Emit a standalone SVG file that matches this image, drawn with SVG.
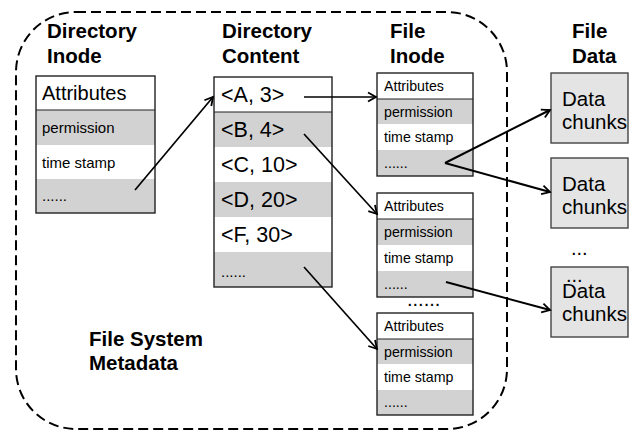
<svg xmlns="http://www.w3.org/2000/svg" width="630" height="432" viewBox="0 0 630 432">
  <defs>
    <marker id="arrow" markerUnits="userSpaceOnUse" markerWidth="12" markerHeight="12" refX="10" refY="6" orient="auto">
      <path d="M2,1.5 L10,6 L2,10.5" fill="none" stroke="#000" stroke-width="1.8" stroke-linejoin="miter"/>
    </marker>
  </defs>
  <style>
    text { font-family: "Liberation Sans", Arial, Helvetica, sans-serif; fill: #000; }
    .head { font-size: 20.5px; font-weight: bold; }
    .frame { fill: none; stroke: #222; stroke-width: 1.4; }
    .sep { stroke: #222; stroke-width: 1.2; }
    .white { fill: #fff; }
    .gray { fill: #d2d2d2; }
    .dinode { font-size: 15px; }
    .dcont { font-size: 21.5px; }
    .finode { font-size: 14.2px; }
    .chunk rect { fill: #e4e4e4; stroke: #444; stroke-width: 1.4; }
    .chunk text { font-size: 20.5px; }
    .conn line { stroke: #000; stroke-width: 1.7; marker-end: url(#arrow); }
    .conn .thick { stroke-width: 2; }
  </style>

  <!-- metadata boundary -->
  <g id="metadata-boundary">
    <rect x="16" y="12" width="491" height="417" rx="60" ry="60" fill="none" stroke="#000" stroke-width="2" stroke-dasharray="10,5"/>
    <text class="head" x="89" y="346">File System</text>
    <text class="head" x="89" y="370">Metadata</text>
  </g>

  <!-- column headings -->
  <g id="headings">
    <text class="head" x="47" y="38">Directory</text>
    <text class="head" x="47" y="63">Inode</text>
    <text class="head" x="222" y="38">Directory</text>
    <text class="head" x="222" y="63">Content</text>
    <text class="head" x="390" y="38">File</text>
    <text class="head" x="390" y="63">Inode</text>
    <text class="head" x="572" y="38">File</text>
    <text class="head" x="572" y="63">Data</text>
  </g>

  <!-- directory inode -->
  <g id="directory-inode">
    <rect class="white" x="36" y="76" width="119" height="34"/>
    <rect class="gray" x="36" y="110" width="119" height="35"/>
    <rect class="white" x="36" y="145" width="119" height="34"/>
    <rect class="gray" x="36" y="179" width="119" height="34"/>
    <line class="sep" x1="36" y1="110" x2="155" y2="110"/>
    <rect class="frame" x="36" y="76" width="119" height="137"/>
    <text x="42" y="100" font-size="20px">Attributes</text>
    <text class="dinode" x="42" y="133">permission</text>
    <text class="dinode" x="42" y="167.5">time stamp</text>
    <text class="dinode" x="42" y="201">......</text>
  </g>

  <!-- directory content -->
  <g id="directory-content">
    <rect class="white" x="214" y="77" width="118" height="35"/>
    <rect class="gray" x="214" y="112" width="118" height="35"/>
    <rect class="white" x="214" y="147" width="118" height="35"/>
    <rect class="gray" x="214" y="182" width="118" height="35"/>
    <rect class="white" x="214" y="217" width="118" height="35"/>
    <rect class="gray" x="214" y="252" width="118" height="35"/>
    <line class="sep" x1="214" y1="112" x2="332" y2="112"/>
    <rect class="frame" x="214" y="77" width="118" height="210"/>
    <text class="dcont" x="221" y="102">&lt;A, 3&gt;</text>
    <text class="dcont" x="221" y="137">&lt;B, 4&gt;</text>
    <text class="dcont" x="221" y="172">&lt;C, 10&gt;</text>
    <text class="dcont" x="221" y="207">&lt;D, 20&gt;</text>
    <text class="dcont" x="221" y="242">&lt;F, 30&gt;</text>
    <text class="dinode" x="221" y="277">......</text>
  </g>

  <!-- file inodes -->
  <g id="file-inode-1">
    <rect class="white" x="377" y="73" width="96" height="26"/>
    <rect class="gray" x="377" y="99" width="96" height="25"/>
    <rect class="white" x="377" y="124" width="96" height="26"/>
    <rect class="gray" x="377" y="150" width="96" height="26"/>
    <line class="sep" x1="377" y1="99" x2="473" y2="99"/>
    <rect class="frame" x="377" y="73" width="96" height="103"/>
    <text class="finode" x="384" y="91">Attributes</text>
    <text class="finode" x="384" y="116.5">permission</text>
    <text class="finode" x="384" y="142">time stamp</text>
    <text class="finode" x="384" y="168">......</text>
  </g>

  <g id="file-inode-2">
    <rect class="white" x="377" y="193" width="96" height="26"/>
    <rect class="gray" x="377" y="219" width="96" height="26"/>
    <rect class="white" x="377" y="245" width="96" height="26"/>
    <rect class="gray" x="377" y="271" width="96" height="26"/>
    <line class="sep" x1="377" y1="219" x2="473" y2="219"/>
    <rect class="frame" x="377" y="193" width="96" height="104"/>
    <text class="finode" x="384" y="211">Attributes</text>
    <text class="finode" x="384" y="237">permission</text>
    <text class="finode" x="384" y="263">time stamp</text>
    <text class="finode" x="384" y="289">......</text>
  </g>

  <text id="more-inodes" x="407" y="306" font-size="20px">......</text>

  <g id="file-inode-3">
    <rect class="white" x="377" y="313" width="96" height="26"/>
    <rect class="gray" x="377" y="339" width="96" height="25"/>
    <rect class="white" x="377" y="364" width="96" height="26"/>
    <rect class="gray" x="377" y="390" width="96" height="25"/>
    <line class="sep" x1="377" y1="339" x2="473" y2="339"/>
    <rect class="frame" x="377" y="313" width="96" height="102"/>
    <text class="finode" x="384" y="331">Attributes</text>
    <text class="finode" x="384" y="356.5">permission</text>
    <text class="finode" x="384" y="382">time stamp</text>
    <text class="finode" x="384" y="407">......</text>
  </g>

  <!-- data chunks -->
  <g id="data-chunks-1" class="chunk">
    <rect x="551" y="73" width="77" height="70"/>
    <text x="562" y="106">Data</text>
    <text x="562" y="129">chunks</text>
  </g>
  <g id="data-chunks-2" class="chunk">
    <rect x="551" y="158" width="77" height="70"/>
    <text x="562" y="191">Data</text>
    <text x="562" y="214">chunks</text>
  </g>
  <g id="data-chunks-3" class="chunk">
    <rect x="551" y="267" width="77" height="70"/>
    <text x="562" y="298">Data</text>
    <text x="562" y="321">chunks</text>
  </g>
  <g id="more-chunks">
    <text x="571" y="255" font-size="20px">...</text>
    <text x="566" y="282" font-size="20px">...</text>
  </g>

  <!-- connectors -->
  <g id="connectors" class="conn">
    <line x1="135" y1="190" x2="213" y2="97"/>
    <line x1="304" y1="97" x2="376" y2="97"/>
    <line x1="304" y1="134" x2="377" y2="214"/>
    <line x1="304" y1="267" x2="377" y2="349"/>
    <line class="thick" x1="445" y1="163" x2="550" y2="110"/>
    <line class="thick" x1="445" y1="163" x2="550" y2="192"/>
    <line class="thick" x1="446" y1="282" x2="550" y2="310"/>
  </g>
</svg>
